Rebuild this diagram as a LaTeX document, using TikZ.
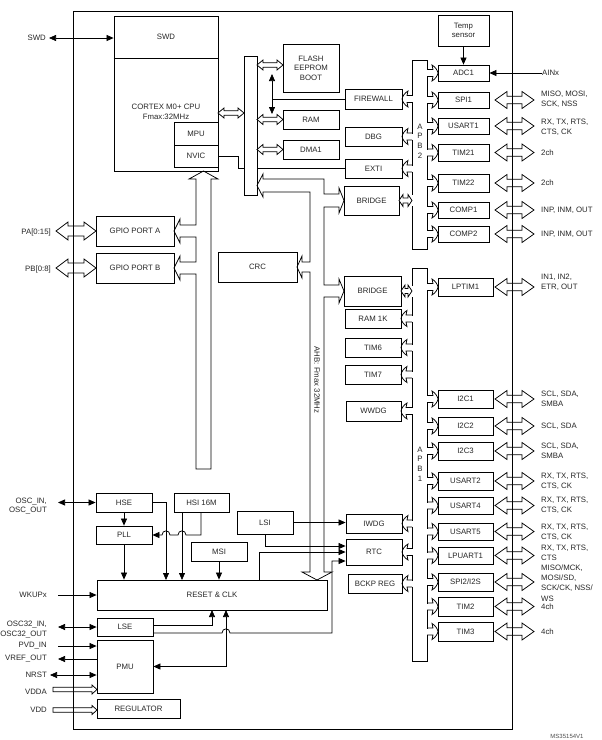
\documentclass[tikz,border=0pt]{standalone}
\usepackage{fontspec}
\setmainfont{Liberation Sans}
\usetikzlibrary{arrows.meta}
\newcommand\fs{\fontsize{7.8}{9.6}\selectfont}
\newcommand\blk[6]{\node[blk, minimum width={(#4-#2)*1pt}, minimum height={(#5-#3)*1pt}] (#1) at ({(#2+#4)/2},{(#3+#5)/2}) {#6};}
\newcommand\harrow[6]{\draw[ln, fill=white] (#1,#3) -- ({#1+#6},{#3-#5}) -- ({#1+#6},{#3-#4}) -- ({#2-#6},{#3-#4}) -- ({#2-#6},{#3-#5}) -- (#2,#3) -- ({#2-#6},{#3+#5}) -- ({#2-#6},{#3+#4}) -- ({#1+#6},{#3+#4}) -- ({#1+#6},{#3+#5}) -- cycle;}
\newcommand\sarrow[6]{\draw[ln, fill=white] (#1,{#3-#4}) -- ({#2-#6},{#3-#4}) -- ({#2-#6},{#3-#5}) -- (#2,#3) -- ({#2-#6},{#3+#5}) -- ({#2-#6},{#3+#4}) -- (#1,{#3+#4}) -- cycle;}
\newcommand\conn[4]{\fill[white] ({#1-1},{#3-3}) rectangle ({#1+1},{#3+3});
 \draw[ln] (#1,{#3-3.5}) -- ({#2-(#4)*5},{#3-3.5}) -- ({#2-(#4)*6},{#3-8}) .. controls ({#2-(#4)*2.5},{#3-6}) and ({#2-(#4)*0.5},{#3-2.5}) .. (#2,#3) .. controls ({#2-(#4)*0.5},{#3+2.5}) and ({#2-(#4)*2.5},{#3+6}) .. ({#2-(#4)*6},{#3+8}) -- ({#2-(#4)*5},{#3+3.5}) -- (#1,{#3+3.5});}
\begin{document}
\begin{tikzpicture}[x=1pt,y=-1pt,
 ln/.style={line width=0.75pt, black},
 blk/.style={draw, line width=0.8pt, inner sep=0pt, font=\fs, align=center, text=black!85},
 txt/.style={font=\fs, inner sep=0pt, align=center, text=black!85},
 lblr/.style={font=\fs, inner sep=0pt, align=right, text=black!85, anchor=east},
 lbll/.style={font=\fs, inner sep=0pt, align=left, text=black!85, anchor=west},
 arr/.style={ln, -{Triangle[length=7pt,width=6pt]}},
 darr/.style={ln, {Triangle[length=7pt,width=6pt]}-{Triangle[length=7pt,width=6pt]}},
]
\useasboundingbox (0,0) rectangle (602,740);
% ---------- CPU ----------
\blk{cpu}{114}{16}{218}{171}{}
\coordinate (sep) at (166,58);
\draw[ln] (cpu.west |- sep) -- (cpu.east |- sep);
\node[txt] (swdt) at (166,37) {SWD};
\node[txt] (cortex) at (166,112) {CORTEX M0+ CPU\\Fmax:32MHz};
\blk{mpu}{174}{122}{218}{145}{MPU}
\blk{nvic}{174}{145}{218}{167}{NVIC}
% ---------- memories / AHB periph ----------
\blk{flash}{283}{44}{339}{92}{FLASH\\EEPROM\\BOOT}
\blk{ram}{283}{110}{339}{129}{RAM}
\blk{dma}{283}{140}{339}{159}{DMA1}
\blk{fw}{345}{89}{402}{109}{FIREWALL}
\blk{dbg}{345}{127}{402}{146}{DBG}
\blk{exti}{345}{159}{402}{178}{EXTI}
\blk{br1}{344}{186}{399}{215}{BRIDGE}
\blk{crc}{218}{252}{297}{282}{CRC}
\blk{gpa}{96}{216}{174}{246}{GPIO PORT A}
\blk{gpb}{96}{253}{174}{283}{GPIO PORT B}
\blk{br2}{344}{276}{401}{306}{BRIDGE}
\blk{ram1k}{345}{309}{401}{328}{RAM 1K}
\blk{tim6}{345}{338}{401}{357}{TIM6}
\blk{tim7}{345}{365}{401}{384}{TIM7}
\blk{wwdg}{346}{401}{401}{421}{WWDG}
\blk{iwdg}{346}{514}{402}{533}{IWDG}
\blk{rtc}{346}{539}{402}{565}{RTC}
\blk{bckp}{348}{574}{402}{593}{BCKP REG}
% ---------- APB2 periph ----------
\blk{temp}{438}{15}{489}{46}{Temp\\sensor}
\blk{adc}{438}{65}{489}{81}{ADC1}
\blk{spi1}{438}{92}{489}{108}{SPI1}
\blk{usart1}{438}{118}{489}{134}{USART1}
\blk{tim21}{438}{144}{489}{161}{TIM21}
\blk{tim22}{438}{174}{489}{192}{TIM22}
\blk{comp1}{438}{202}{489}{218}{COMP1}
\blk{comp2}{438}{226}{489}{242}{COMP2}
% ---------- APB1 periph ----------
\blk{lptim}{438}{278}{493}{296}{LPTIM1}
\blk{i2ca}{438}{390}{493}{408}{I2C1}
\blk{i2cb}{438}{417}{493}{435}{I2C2}
\blk{i2cc}{438}{442}{493}{460}{I2C3}
\blk{usart2}{438}{472}{493}{490}{USART2}
\blk{usart4}{438}{497}{493}{514}{USART4}
\blk{usart5}{438}{523}{493}{540}{USART5}
\blk{lpuart}{438}{547}{493}{564}{LPUART1}
\blk{spi2}{438}{573}{493}{591}{SPI2/I2S}
\blk{tim2}{438}{597}{493}{616}{TIM2}
\blk{tim3}{438}{622}{493}{641}{TIM3}
% ---------- clocks / power ----------
\blk{hse}{96}{493}{152}{512}{HSE}
\blk{hsi}{174}{493}{229}{512}{HSI 16M}
\blk{pll}{96}{526}{152}{544}{PLL}
\blk{lsi}{237}{511}{293}{534}{LSI}
\blk{msi}{191}{542}{247}{561}{MSI}
\blk{rst}{97}{580}{327}{610}{RESET \& CLK}
\blk{lse}{97}{618}{153}{636}{LSE}
\blk{pmu}{97}{640}{153}{693}{PMU}
\blk{reg}{97}{699}{180}{718}{REGULATOR}
% ---------- NVIC to EXTI ----------
\coordinate (nv) at (238,168.5);
\draw[ln] (nvic.east) -| (nv) -- (exti.west);
% ---------- bus matrix bar ----------
\node[draw, line width=0.8pt, fill=white, minimum width=13pt, minimum height=139pt, inner sep=0pt] (bar) at (250.5,125.5) {};
\harrow{218}{244}{113}{2.3}{5}{6}
\harrow{257}{283}{65}{2.3}{5}{6}
\harrow{257}{283}{119.5}{2.3}{5}{6}
\harrow{257}{283}{149.5}{2.3}{5}{6}
\coordinate (va) at (272,74);
\coordinate (vb) at (272,114);
\coordinate (vc) at (272,99);
\draw[darr] (va) -- (vb);
\draw[ln] (vc) -- (fw.west);
% ---------- CPU pipe to GPIO ----------
\draw[ln] (203.5,171) -- (218,179) -- (211,179) -- (211,469) -- (196,469) -- (196,274) -- (180,274) -- (180,280) -- (174,268) -- (180,256) -- (180,262) -- (196,262) -- (196,237) -- (180,237) -- (180,243) -- (174,231) -- (180,219) -- (180,225) -- (196,225) -- (196,179) -- (189,179) -- cycle;
% ---------- AHB pipe ----------
\draw[ln] (257,185.5) -- (263,174) -- (263,179) -- (324,179) -- (324,194) -- (339,194) -- (339,188) -- (344,200.5) -- (339,213) -- (339,207) -- (324,207) -- (324,285) -- (339,285) -- (339,279) -- (344,291) -- (339,303) -- (339,297) -- (324,297) -- (324,572) -- (332,572) -- (317,580) -- (302,572) -- (310,572) -- (310,272) -- (302,272) -- (302,278) -- (297,267) -- (302,256) -- (302,262) -- (310,262) -- (310,192) -- (263,192) -- (263,197) -- cycle;
\node[txt, rotate=-90] (ahb) at (317,380) {AHB: Fmax 32MHz};
% ---------- APB pipes ----------
\draw[ln] (412,60) rectangle (427,249);
\draw[ln] (412,268) rectangle (427,661);
\node[txt] (apb2) at (420,141) {A\\P\\B\\2};
\node[txt] (apb1) at (420,464) {A\\P\\B\\1};
\foreach \y in {73,100,126,152.5,183,210,234} {\conn{427}{438}{\y}{1}}
\foreach \y in {99,136.5,168.5} {\conn{412}{402}{\y}{-1}}
\foreach \y in {287,399,426,451,481,505.5,531.5,555.5,582,606.5,631.5} {\conn{427}{438}{\y}{1}}
\foreach \y in {318.5,347.5,374.5,411} {\conn{412}{401}{\y}{-1}}
\foreach \y in {523.5,552,583.5} {\conn{412}{402}{\y}{-1}}
\fill[white] (411,195) rectangle (413,206);
\harrow{399}{412}{200.5}{2.5}{6}{4}
\fill[white] (411,285.5) rectangle (413,296.5);
\harrow{401}{412}{291}{2.5}{6}{4}
% ---------- right side I/O ----------
\draw[arr] (temp.south) -- (adc.north);
\node[lbll] (lain) at (542,73) {AINx};
\draw[arr] (lain.west) -- (adc.east);
\foreach \y in {100,126,152.5,183,210,234,287,399,426,451,481,505.5,531.5,555.5,582,606.5,631.5} {\harrow{495}{534}{\y}{3.7}{8.5}{12}}
\node[lbll] (lspi1) at (541,99.5) {MISO, MOSI,\\SCK, NSS};
\node[lbll] (lus1) at (541,127) {RX, TX, RTS,\\CTS, CK};
\node[lbll] (lt21) at (541,153) {2ch};
\node[lbll] (lt22) at (541,183) {2ch};
\node[lbll] (lc1) at (541,210) {INP, INM, OUT};
\node[lbll] (lc2) at (541,234) {INP, INM, OUT};
\node[lbll] (llp) at (541,282.5) {IN1, IN2,\\ETR, OUT};
\node[lbll] (li1) at (541,399) {SCL, SDA,\\SMBA};
\node[lbll] (li2) at (541,426) {SCL, SDA};
\node[lbll] (li3) at (541,451) {SCL, SDA,\\SMBA};
\node[lbll] (lu2) at (541,481) {RX, TX, RTS,\\CTS, CK};
\node[lbll] (lu4) at (541,505.5) {RX, TX, RTS,\\CTS, CK};
\node[lbll] (lu5) at (541,532) {RX, TX, RTS,\\CTS, CK};
\node[lbll] (llpu) at (541,553) {RX, TX, RTS,\\CTS};
\node[lbll, font=\fontsize{7.8}{10.4}\selectfont] (lsp2) at (541,583) {MISO/MCK,\\MOSI/SD,\\SCK/CK, NSS/\\WS};
\node[lbll] (lt2) at (541,607) {4ch};
\node[lbll] (lt3) at (541,631.5) {4ch};
% ---------- left side I/O ----------
\node[lblr] (lswd) at (46,38) {SWD};
\coordinate (swa) at (49,38);
\draw[darr] (swa) -- (swa -| cpu.west);
\harrow{56}{96}{231}{5}{9}{12}
\harrow{56}{96}{268}{5}{9}{12}
\node[lblr] (lpa) at (51,232) {PA[0:15]};
\node[lblr] (lpb) at (51,269) {PB[0:8]};
\node[lblr] (losc) at (47,506) {OSC\_IN,\\OSC\_OUT};
\coordinate (osca) at (58,502.5);
\draw[darr] (osca) -- (hse.west);
\node[lblr] (lwk) at (47,595) {WKUPx};
\coordinate (wka) at (58,595);
\draw[arr] (wka) -- (rst.west);
\node[lblr] (lo32) at (47,629.5) {OSC32\_IN,\\OSC32\_OUT};
\coordinate (o32) at (58,627);
\draw[darr] (o32) -- (lse.west);
\node[lblr] (lpvd) at (47,646) {PVD\_IN};
\coordinate (pvd) at (58,646);
\draw[arr] (pvd) -- (pvd -| pmu.west);
\node[lblr] (lvref) at (47,659) {VREF\_OUT};
\coordinate (vref) at (58,659);
\draw[arr] (vref -| pmu.west) -- (vref);
\node[lblr] (lnrst) at (47,675) {NRST};
\coordinate (nrst) at (50,675);
\draw[darr] (nrst) -- (nrst -| pmu.west);
\node[lblr] (lvdda) at (47,692) {VDDA};
\sarrow{53}{97}{689.5}{2.2}{4.5}{5}
\node[lblr] (lvdd) at (47,710) {VDD};
\sarrow{53}{97}{710}{2.2}{4.5}{5}
% ---------- clock tree ----------
\draw[arr] (hse.south) -- (pll.north);
\coordinate (r2) at (166,580);
\draw[arr] (hse.east) -| (r2);
\coordinate (r3) at (182,580);
\draw[arr] (hsi.south -| r3) -- (r3);
\coordinate (h2) at (201,535);
\draw[arr] (hsi.south -| h2) -- (h2) -- (186,535) .. controls (186,529.5) and (178,529.5) .. (178,535) -- (170,535) .. controls (170,529.5) and (162,529.5) .. (162,535) -- (pll.east);
\draw[arr] (pll.south) -- (pll.south |- rst.north);
\draw[arr] (msi.south) -- (msi.south |- rst.north);
\draw[arr] (lsi.east) -- (lsi.east -| iwdg.west);
\coordinate (l2) at (265,546);
\draw[arr] (lsi.south -| l2) -- (l2) -- (l2 -| rtc.west);
\coordinate (r4) at (259,552);
\draw[arr] (rst.north -| r4) -- (r4) -- (r4 -| rtc.west);
\coordinate (l3) at (332,633);
\coordinate (l4) at (332,561);
\draw[arr] ([yshift=-6pt]lse.east) -- (222,633) .. controls (222,627.5) and (230,627.5) .. (230,633) -- (l3) -- (l4) -- (l4 -| rtc.west);
\coordinate (rb1) at (212,610);
\draw[arr] ([yshift=2pt]lse.east) -| (rb1);
\coordinate (rb2) at (226,610);
\draw[darr] (pmu.east) -| (rb2);
% ---------- chip outline ----------
\draw[line width=1pt] (73,11) rectangle (512,729);
\node[font=\fontsize{6}{7}\selectfont, text=black!70, inner sep=0pt] (ms) at (567,736) {MS35154V1};
\end{tikzpicture}
\end{document}
